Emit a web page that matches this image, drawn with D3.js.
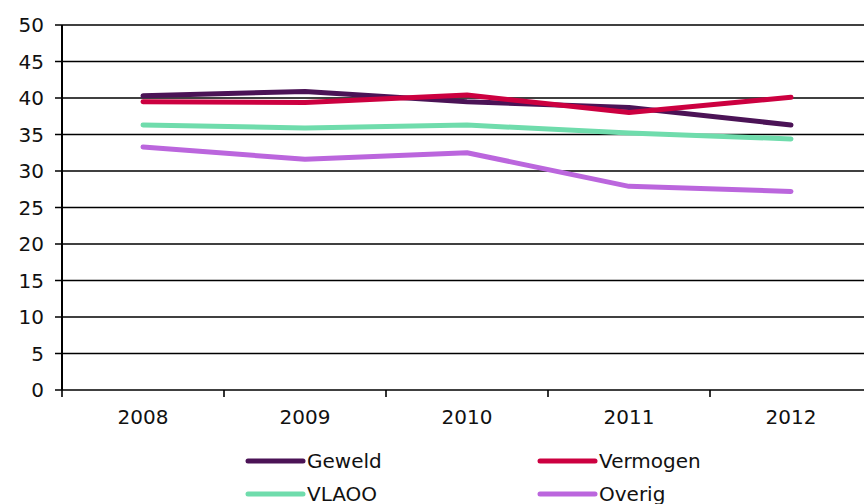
<!DOCTYPE html>
<html><head><meta charset="utf-8">
<script src="https://cdn.jsdelivr.net/npm/d3@7"></script>
<style>
html,body{margin:0;padding:0;background:#fff;overflow:hidden;}
svg{display:block;font-family:"DejaVu Sans",Verdana,sans-serif;}
</style></head>
<body>
<svg id="chart" width="864" height="504"></svg>
<script>
const years = ["2008","2009","2010","2011","2012"];
const seriesNames = ["Geweld","Vermogen","VLAOO","Overig"];
const geweld   = [40.3, 40.9, 39.5, 38.7, 36.3];
const vermogen = [39.5, 39.4, 40.4, 38.0, 40.1];
const vlaoo    = [36.3, 35.9, 36.3, 35.2, 34.4];
const overig   = [33.3, 31.6, 32.5, 27.9, 27.2];
const yTicks = [0,5,10,15,20,25,30,35,40,45,50];
const colors = ["#4b1356","#cc0040","#6fdcac","#bb66dd"];

(function(){
const data = [geweld, vermogen, vlaoo, overig];
const svg = d3.select("#chart");
const mLeft = 62, mRight = 872, mTop = 25, mBottom = 390;

const x = d3.scaleBand().domain(years).range([mLeft, mRight]);
const y = d3.scaleLinear().domain([0,50]).range([mBottom, mTop]);

// gridlines
svg.append("g").selectAll("line").data(yTicks).join("line")
  .attr("x1", 55).attr("x2", 864)
  .attr("y1", d => y(d)).attr("y2", d => y(d))
  .attr("stroke", "#000").attr("stroke-width", 1.6);

// y labels
svg.append("g").selectAll("text").data(yTicks).join("text")
  .attr("x", 44).attr("y", d => y(d)).attr("dy", "0.36em")
  .attr("text-anchor", "end").attr("font-size", 20).attr("fill", "#111")
  .text(d => d);

// y axis line
svg.append("line").attr("x1", mLeft).attr("x2", mLeft).attr("y1", mTop).attr("y2", mBottom)
  .attr("stroke", "#000").attr("stroke-width", 2);

// x axis ticks
const xTickPos = years.map(d => x(d)).concat([mRight]);
svg.append("g").selectAll("line").data(xTickPos).join("line")
  .attr("x1", d => d).attr("x2", d => d).attr("y1", mBottom).attr("y2", mBottom + 7)
  .attr("stroke", "#000").attr("stroke-width", 1.6);

svg.append("g").selectAll("text").data(years).join("text")
  .attr("x", d => x(d) + x.bandwidth()/2).attr("y", 417).attr("dy", "0.36em")
  .attr("text-anchor", "middle").attr("font-size", 20).attr("fill", "#111")
  .text(d => d);

// lines
const line = d3.line().x((d,i) => x(years[i]) + x.bandwidth()/2).y(d => y(d));
svg.append("g").selectAll("path").data(data).join("path")
  .attr("d", d => line(d)).attr("fill", "none")
  .attr("stroke", (d,i) => colors[i]).attr("stroke-width", 5)
  .attr("stroke-linecap", "round").attr("stroke-linejoin", "round");

// legend
const legPos = [[248,461],[540,461],[248,494],[540,494]];
const leg = svg.append("g").selectAll("g").data(seriesNames).join("g")
  .attr("transform", (d,i) => `translate(${legPos[i][0]},${legPos[i][1]})`);
leg.append("line").attr("x1", 0).attr("x2", 55).attr("y1", 0).attr("y2", 0)
  .attr("stroke", (d,i) => colors[i]).attr("stroke-width", 5).attr("stroke-linecap", "round");
leg.append("text").attr("x", 59).attr("y", 0).attr("dy", "0.36em")
  .attr("font-size", 20).attr("fill", "#111").text(d => d);
})();
</script>
</body></html>
